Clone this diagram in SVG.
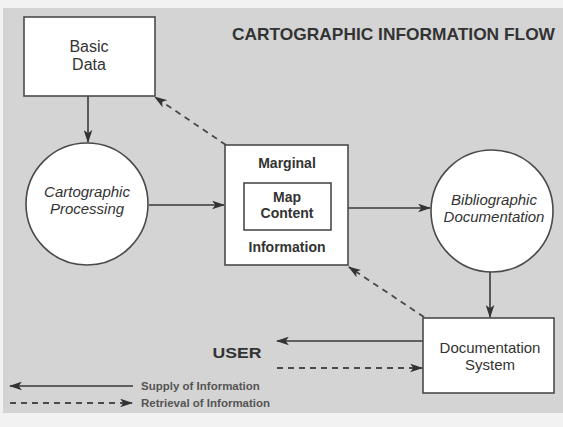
<svg xmlns="http://www.w3.org/2000/svg" width="563" height="427" viewBox="0 0 563 427">
  <style>
    .box { fill: #ffffff; stroke: #4a4a4a; stroke-width: 1.6; }
    .flow { fill: none; stroke: #3a3a3a; stroke-width: 1.6; }
    .dash { fill: none; stroke: #4a4a4a; stroke-width: 1.8; stroke-dasharray: 6 5; }
    text { font-family: "Liberation Sans", Arial, sans-serif; fill: #333333; text-anchor: middle; }
    .lbl { font-size: 16px; }
    .ital { font-size: 15px; font-style: italic; }
    .bold { font-size: 14px; font-weight: bold; }
    .title { font-size: 17px; font-weight: bold; text-anchor: start; }
    .legend { font-size: 11.5px; font-weight: bold; text-anchor: start; fill: #555555; }
  </style>
  <defs>
    <marker id="head" viewBox="0 0 12 8" refX="11" refY="4" markerWidth="13" markerHeight="9" markerUnits="userSpaceOnUse" orient="auto">
      <path d="M0,0 L12,4 L0,8 L3,4 Z" fill="#333333"/>
    </marker>
  </defs>

  <!-- paper -->
  <rect x="0" y="0" width="563" height="427" fill="#f2f2f2"/>
  <rect x="3" y="8" width="560" height="405" fill="#d4d4d4"/>

  <text class="title" x="232" y="40" textLength="323" lengthAdjust="spacingAndGlyphs">CARTOGRAPHIC INFORMATION FLOW</text>

  <g id="connectors">
    <line class="flow" x1="88" y1="96" x2="88" y2="142" marker-end="url(#head)"/>
    <line class="flow" x1="149" y1="205" x2="224" y2="205" marker-end="url(#head)"/>
    <line class="flow" x1="348" y1="208" x2="430" y2="208" marker-end="url(#head)"/>
    <line class="flow" x1="490" y1="271" x2="490" y2="317" marker-end="url(#head)"/>
    <line class="flow" x1="423" y1="341" x2="277" y2="341" marker-end="url(#head)"/>
    <line class="dash" x1="277" y1="368" x2="422" y2="368" marker-end="url(#head)"/>
    <line class="dash" x1="226" y1="145" x2="155" y2="97" marker-end="url(#head)"/>
    <line class="dash" x1="424" y1="317" x2="349" y2="267" marker-end="url(#head)"/>
  </g>

  <g id="basic-data">
    <rect class="box" x="24" y="17" width="131" height="79"/>
    <text class="lbl" x="89" y="52">Basic</text>
    <text class="lbl" x="89" y="70">Data</text>
  </g>

  <g id="cartographic-processing">
    <circle class="box" cx="87" cy="204" r="61"/>
    <text class="ital" x="87" y="197">Cartographic</text>
    <text class="ital" x="87" y="214">Processing</text>
  </g>

  <g id="marginal-information">
    <rect class="box" x="225" y="145" width="123" height="120"/>
    <text class="bold" x="287" y="168">Marginal</text>
    <text class="bold" x="287" y="252">Information</text>
  </g>

  <g id="map-content">
    <rect class="box" x="244" y="183" width="87" height="47"/>
    <text class="bold" x="287" y="202">Map</text>
    <text class="bold" x="287" y="218">Content</text>
  </g>

  <g id="bibliographic-documentation">
    <circle class="box" cx="492" cy="211" r="61"/>
    <text class="ital" x="494" y="205">Bibliographic</text>
    <text class="ital" x="494" y="222">Documentation</text>
  </g>

  <g id="documentation-system">
    <rect class="box" x="423" y="318" width="131" height="75"/>
    <text class="lbl" x="490" y="353" style="font-size:15px">Documentation</text>
    <text class="lbl" x="490" y="370" style="font-size:15px">System</text>
  </g>

  <g id="user">
    <text x="237" y="358" style="font-size:15px;font-weight:bold" textLength="49" lengthAdjust="spacingAndGlyphs">USER</text>
  </g>

  <g id="legend">
    <line class="flow" x1="133" y1="386" x2="10" y2="386" marker-end="url(#head)"/>
    <line class="dash" x1="10" y1="403" x2="132" y2="403" stroke-dasharray="5 4" marker-end="url(#head)"/>
    <text class="legend" x="141" y="390">Supply of Information</text>
    <text class="legend" x="141" y="407">Retrieval of Information</text>
  </g>
</svg>
